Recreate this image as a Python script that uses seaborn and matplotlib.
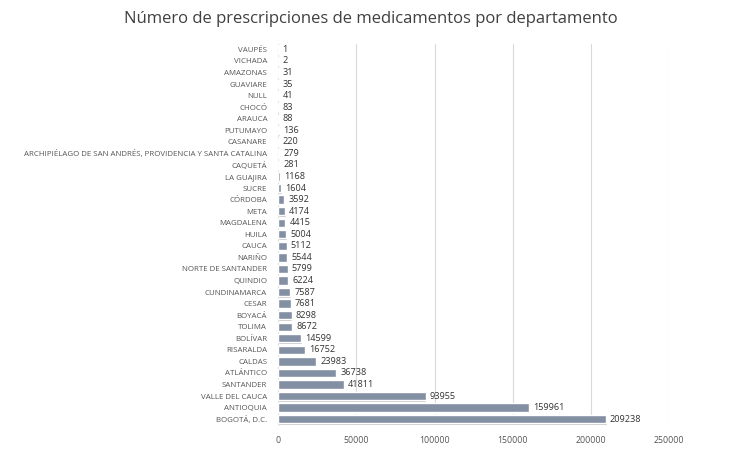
import seaborn as sns
import pandas as pd
import matplotlib.pyplot as plt

departamentos = [
    "VAUPÉS", "VICHADA", "AMAZONAS", "GUAVIARE", "NULL", "CHOCÓ", "ARAUCA",
    "PUTUMAYO", "CASANARE",
    "ARCHIPIÉLAGO DE SAN ANDRÉS, PROVIDENCIA Y SANTA CATALINA",
    "CAQUETÁ", "LA GUAJIRA", "SUCRE", "CÓRDOBA", "META", "MAGDALENA", "HUILA",
    "CAUCA", "NARIÑO", "NORTE DE SANTANDER", "QUINDIO", "CUNDINAMARCA",
    "CESAR", "BOYACÁ", "TOLIMA", "BOLÍVAR", "RISARALDA", "CALDAS",
    "ATLÁNTICO", "SANTANDER", "VALLE DEL CAUCA", "ANTIOQUIA", "BOGOTÁ, D.C.",
]
prescripciones = [
    1, 2, 31, 35, 41, 83, 88, 136, 220, 279, 281, 1168, 1604, 3592, 4174,
    4415, 5004, 5112, 5544, 5799, 6224, 7587, 7681, 8298, 8672, 14599,
    16752, 23983, 36738, 41811, 93955, 159961, 209238,
]
ticks = [0, 50000, 100000, 150000, 200000, 250000]

df = pd.DataFrame({"departamento": departamentos, "n": prescripciones})

sns.set_style("white")
plt.rcParams["font.family"] = ["Open Sans", "DejaVu Sans"]

fig = plt.figure(figsize=(7.42, 4.54), dpi=100)
ax = fig.add_axes([0.375, 0.064, 0.527, 0.84])

# sombra de las barras
sns.barplot(data=df.assign(n=df["n"] + 700), x="n", y="departamento",
            orient="h", color="#b9bcc2", width=0.72, ax=ax, zorder=2)
for p in ax.patches:
    p.set_y(p.get_y() + 0.12)
sns.barplot(data=df.assign(n=df["n"] + 200), x="n", y="departamento",
            orient="h", color="#7d8fa9", width=0.72, ax=ax, zorder=3)

for i, v in enumerate(prescripciones):
    ax.text(v + 2800, i, str(v), va="center", ha="left", fontsize=6.6,
            color="#333333", zorder=4)

ax.set_xlim(0, 250000)
ax.set_ylim(len(departamentos) - 0.5, -0.5)
ax.set_xticks(ticks)
ax.set_xticklabels([str(t) for t in ticks], fontsize=6.3, color="#555555")
ax.tick_params(axis="y", labelsize=5.7, labelcolor="#555555", length=0, pad=8)
ax.tick_params(axis="x", length=0, pad=8)
ax.set_xlabel("")
ax.set_ylabel("")
ax.xaxis.grid(True, color="#d9d9d9", linewidth=0.8, zorder=0)
ax.set_axisbelow(True)
for side in ["top", "right", "bottom"]:
    ax.spines[side].set_visible(False)
ax.spines["left"].set_color("#e3e3e3")
ax.spines["left"].set_linewidth(0.8)

fig.suptitle("Número de prescripciones de medicamentos por departamento",
             x=0.5, y=0.975, fontsize=12, color="#404040")

fig.savefig("out.png", dpi=100)
